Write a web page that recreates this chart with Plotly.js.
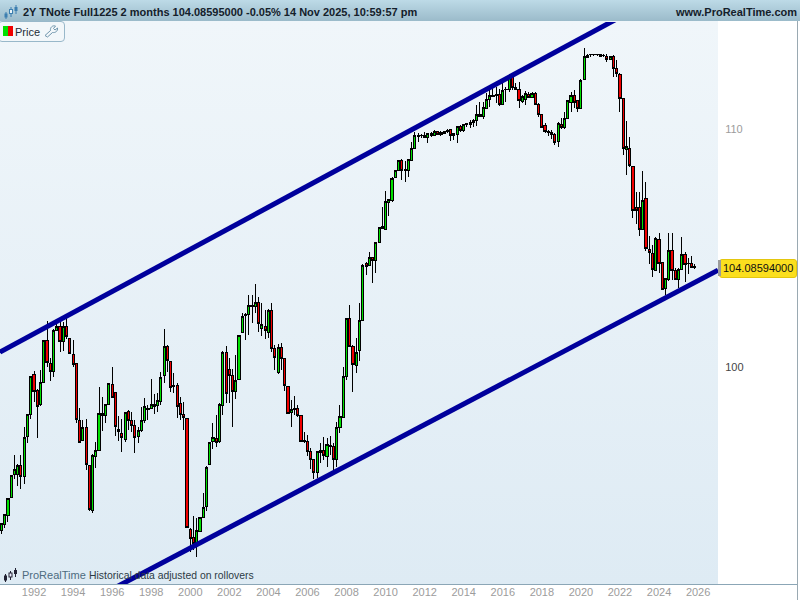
<!DOCTYPE html>
<html><head><meta charset="utf-8">
<script src="https://cdn.plot.ly/plotly-3.0.1.min.js"></script>
<style>
html,body{margin:0;padding:0;background:#fff;overflow:hidden}
#wrap{position:relative;width:800px;height:600px}
.bg{position:absolute}
#chart{position:absolute;left:0;top:0;width:800px;height:600px}
#chart .boxlayer path{shape-rendering:crispEdges}
</style></head><body>
<div id="wrap">
<div class="bg" style="left:0;top:0;width:800px;height:21px;background:linear-gradient(#bddae7,#9bbbca)"></div>
<div class="bg" style="left:0;top:21px;width:718px;height:563px;background:linear-gradient(#f0f6fa,#deebf4)"></div>
<div class="bg" style="left:797px;top:21px;width:1px;height:579px;background:#9aa9b2"></div>
<div class="bg" style="left:0;top:584px;width:797px;height:1px;background:#8ba6b6"></div>
<div class="bg" style="left:-2px;top:21px;width:65px;height:19px;background:#f2f7fa;border:1px solid #98b8ca;border-radius:4px"></div>
<div class="bg" style="left:3px;top:26px;width:5px;height:10px;background:#00e000"></div>
<div class="bg" style="left:8px;top:26px;width:5px;height:10px;background:#f00000"></div>
<svg class="bg" style="left:44px;top:24px" width="15" height="14" viewBox="0 0 15 14"><path d="M1 11.5 L6.5 6.5 C6 3.5 8.5 1 11.5 2 L9.5 4.5 L11 6 L13.5 4 C14 7 11.5 9 8.5 8.5 L3.5 13 Z" fill="none" stroke="#6f95ac" stroke-width="1"/></svg>
<div class="bg" style="left:719px;top:259px;width:76px;height:17px;background:#fbdf1e;border:1px solid #e3c60e;border-radius:3px"></div>
<div class="bg" style="left:718px;top:260px;width:3px;height:16px;background:#9b9b9b"></div>
<svg class="bg" style="left:4px;top:4px" width="14" height="16" viewBox="0 0 14 16">
<path d="M2 8v7M7 3v10M12 1v9" stroke="#3c7fb0" stroke-width="1"/>
<rect x="0.5" y="9.5" width="3" height="4" fill="#3c7fb0"/><rect x="5.5" y="5.5" width="3" height="4" fill="#e8f4fa" stroke="#3c7fb0"/><rect x="10.5" y="3" width="3" height="4" fill="#3c7fb0"/></svg>
<svg class="bg" style="left:3px;top:567px" width="14" height="16" viewBox="0 0 14 16">
<path d="M2.5 7v8M7.5 4v9M12.5 1v9" stroke="#223" stroke-width="1"/>
<rect x="1" y="8.5" width="3" height="5" fill="#223"/><rect x="6" y="6" width="3" height="4" fill="#eef" stroke="#223"/><rect x="11" y="3" width="3" height="4" fill="#223"/></svg>
<div id="chart"></div>
</div>
<script>
const barDates = [
'1990-05','1990-07','1990-09','1990-11',
'1991-01','1991-03','1991-05','1991-07','1991-09','1991-11',
'1992-01','1992-03','1992-05','1992-07','1992-09','1992-11',
'1993-01','1993-03','1993-05','1993-07','1993-09','1993-11',
'1994-01','1994-03','1994-05','1994-07','1994-09','1994-11',
'1995-01','1995-03','1995-05','1995-07','1995-09','1995-11',
'1996-01','1996-03','1996-05','1996-07','1996-09','1996-11',
'1997-01','1997-03','1997-05','1997-07','1997-09','1997-11',
'1998-01','1998-03','1998-05','1998-07','1998-09','1998-11',
'1999-01','1999-03','1999-05','1999-07','1999-09','1999-11',
'2000-01','2000-03','2000-05','2000-07','2000-09','2000-11',
'2001-01','2001-03','2001-05','2001-07','2001-09','2001-11',
'2002-01','2002-03','2002-05','2002-07','2002-09','2002-11',
'2003-01','2003-03','2003-05','2003-07','2003-09','2003-11',
'2004-01','2004-03','2004-05','2004-07','2004-09','2004-11',
'2005-01','2005-03','2005-05','2005-07','2005-09','2005-11',
'2006-01','2006-03','2006-05','2006-07','2006-09','2006-11',
'2007-01','2007-03','2007-05','2007-07','2007-09','2007-11',
'2008-01','2008-03','2008-05','2008-07','2008-09','2008-11',
'2009-01','2009-03','2009-05','2009-07','2009-09','2009-11',
'2010-01','2010-03','2010-05','2010-07','2010-09','2010-11',
'2011-01','2011-03','2011-05','2011-07','2011-09','2011-11',
'2012-01','2012-03','2012-05','2012-07','2012-09','2012-11',
'2013-01','2013-03','2013-05','2013-07','2013-09','2013-11',
'2014-01','2014-03','2014-05','2014-07','2014-09','2014-11',
'2015-01','2015-03','2015-05','2015-07','2015-09','2015-11',
'2016-01','2016-03','2016-05','2016-07','2016-09','2016-11',
'2017-01','2017-03','2017-05','2017-07','2017-09','2017-11',
'2018-01','2018-03','2018-05','2018-07','2018-09','2018-11',
'2019-01','2019-03','2019-05','2019-07','2019-09','2019-11',
'2020-01','2020-03','2020-05','2020-07','2020-09','2020-11',
'2021-01','2021-03','2021-05','2021-07','2021-09','2021-11',
'2022-01','2022-03','2022-05','2022-07','2022-09','2022-11',
'2023-01','2023-03','2023-05','2023-07','2023-09','2023-11',
'2024-01','2024-03','2024-05','2024-07','2024-09','2024-11',
'2025-01','2025-03','2025-05','2025-07','2025-09','2025-11'];

const opens = [
93.68,93.89,94.22,94.91,95.79,95.79,96.14,95.70,97.25,98.11,
99.71,99.08,98.50,99.38,101.07,100.15,99.81,101.49,101.63,101.01,
101.65,101.15,100.50,100.15,97.88,97.10,97.61,96.14,94.43,96.50,
96.73,98.16,98.06,98.50,99.29,98.99,97.55,97.38,97.13,98.22,
97.87,97.68,97.25,97.49,97.89,98.33,98.34,98.52,98.47,98.64,
99.66,100.83,100.23,99.27,99.27,98.56,98.12,97.97,93.71,93.41,
93.12,93.62,94.15,94.56,96.17,97.06,97.19,97.08,98.49,100.59,
99.91,99.67,99.03,99.51,101.39,102.08,102.13,102.44,102.44,102.62,
101.55,101.65,101.40,102.30,100.73,99.79,100.79,100.35,99.22,98.19,
98.32,98.35,98.06,97.10,97.06,96.68,96.37,95.87,96.64,96.70,
96.47,96.86,96.88,96.37,97.61,98.00,99.61,101.97,100.82,100.05,
100.67,101.89,104.23,104.16,104.49,104.37,105.11,105.78,105.66,106.82,
106.89,107.89,108.18,108.61,108.24,108.21,108.64,109.15,109.72,109.70,
109.72,109.64,109.80,109.72,109.89,109.77,109.81,109.89,109.99,109.71,
109.75,110.11,109.93,110.19,110.22,110.28,110.39,110.65,110.55,110.93,
111.32,111.44,111.47,111.54,111.08,111.74,111.74,112.33,111.87,111.77,
111.22,111.29,111.54,111.41,111.59,111.10,110.64,110.14,109.91,109.87,
109.77,109.44,110.21,110.06,110.46,111.17,111.50,111.25,110.92,112.21,
113.19,113.32,113.32,113.33,113.34,113.29,113.26,113.11,113.26,112.71,
112.45,111.37,109.11,109.15,108.35,106.61,106.61,105.67,106.99,104.83,
104.66,103.96,105.26,104.28,103.19,103.55,104.76,103.96,103.58,103.99,
104.62,104.23,104.24,104.11];

const highs = [
93.93,94.27,94.90,95.74,96.54,96.21,96.54,97.61,98.12,99.64,
99.85,99.11,99.88,101.07,101.86,100.35,101.52,101.80,101.83,101.83,
101.97,101.15,101.11,100.15,98.36,97.90,97.94,96.14,96.56,97.03,
99.19,98.79,98.55,99.34,99.99,98.99,98.06,97.96,98.22,98.31,
98.22,97.90,97.64,98.40,98.76,98.49,99.52,98.93,98.95,99.79,
101.54,100.90,100.23,99.75,99.35,98.80,98.62,97.97,93.75,94.21,
94.12,94.19,95.07,96.11,97.06,97.77,98.10,98.56,100.64,100.83,
100.35,99.91,100.48,101.28,102.17,102.17,102.93,102.93,103.38,102.83,
102.62,102.31,102.34,102.62,100.89,100.93,100.96,100.35,99.26,98.69,
98.85,98.49,98.06,97.42,97.32,96.80,96.37,96.69,96.99,97.25,
97.19,97.28,96.99,97.83,98.49,99.99,101.97,102.51,100.89,101.16,
102.61,104.21,104.31,104.73,104.52,105.15,105.78,106.64,107.32,106.95,
107.89,108.21,108.64,108.68,108.61,108.71,109.42,109.87,109.84,109.78,
109.87,109.84,109.89,109.96,109.93,109.93,109.91,109.99,109.99,109.84,
110.14,110.18,110.24,110.28,110.40,110.46,111.07,111.22,111.22,111.59,
111.78,111.84,111.89,111.77,112.10,111.89,112.45,112.48,112.06,112.10,
111.51,111.69,111.66,111.66,111.66,111.14,110.67,110.25,109.96,109.96,
109.81,110.33,110.47,110.77,111.29,111.63,111.74,111.29,112.25,113.61,
113.38,113.38,113.35,113.35,113.38,113.34,113.38,113.28,113.31,113.08,
112.48,111.37,110.36,109.64,108.37,107.25,107.25,108.17,107.68,105.39,
105.01,105.36,105.50,104.28,103.62,105.50,105.50,104.03,104.03,105.33,
104.70,104.45,104.54,104.21];

const lows = [
93.53,93.74,93.99,94.91,95.62,95.36,95.23,95.41,97.02,97.96,
98.62,97.21,98.46,99.38,100.02,99.45,99.61,101.49,100.61,100.64,
101.13,100.53,99.99,97.79,97.02,97.08,95.96,94.39,94.31,96.05,
96.73,97.48,97.79,98.49,98.75,97.28,97.10,96.67,97.03,97.51,
97.45,96.63,97.02,97.45,97.77,97.90,98.34,98.14,98.20,98.49,
99.37,99.81,99.02,98.95,97.99,97.90,97.51,93.75,92.87,92.94,
92.66,93.62,94.15,94.40,96.17,96.77,96.86,96.99,98.10,98.59,
98.59,97.64,98.73,99.48,101.39,101.09,101.29,101.77,102.21,101.43,
101.25,101.12,101.19,100.62,99.88,99.71,99.88,99.06,98.12,97.64,
98.10,98.03,97.03,96.99,96.51,96.01,95.60,95.67,96.24,96.34,
96.08,96.53,95.98,96.06,97.38,97.99,99.48,100.82,99.02,99.77,
100.24,101.89,103.76,104.15,103.44,103.86,105.08,105.67,105.63,106.23,
106.85,107.89,108.18,107.78,107.71,107.89,108.61,109.14,109.45,109.59,
109.59,109.38,109.67,109.69,109.74,109.69,109.77,109.81,109.49,109.52,
109.40,109.89,109.89,110.08,110.03,110.08,110.15,110.53,110.43,110.93,
110.99,111.41,111.17,111.04,111.05,111.22,111.66,111.74,111.74,110.95,
111.14,111.07,111.36,111.36,111.10,110.55,110.03,109.81,109.69,109.56,
109.28,109.22,109.99,110.00,110.43,110.77,110.92,110.77,110.89,112.18,
113.16,113.23,113.29,113.29,113.23,113.20,113.00,113.08,112.33,112.33,
110.77,108.86,107.99,108.35,106.16,105.88,105.40,105.64,104.76,104.20,
103.69,103.93,103.83,103.16,102.93,103.52,103.55,103.55,103.23,103.99,
103.48,103.80,104.03,103.99];

const closes = [
93.93,94.27,94.87,95.74,95.99,96.14,95.70,97.23,98.12,99.64,
99.01,98.42,99.38,101.07,100.18,99.81,101.49,101.63,101.01,101.63,
101.22,100.53,100.11,97.92,97.03,97.61,96.18,94.46,96.52,96.70,
98.16,98.07,98.51,99.34,98.79,97.65,97.45,97.23,98.20,97.87,
97.68,97.21,97.50,97.89,98.42,98.35,98.52,98.44,98.66,99.59,
100.83,100.27,99.19,99.24,98.42,98.12,98.00,93.77,93.36,93.19,
93.67,94.14,94.52,96.06,97.03,97.21,97.02,98.52,100.59,98.95,
99.66,99.03,99.45,101.28,102.06,102.13,102.51,102.51,102.62,101.75,
101.72,101.49,102.31,100.74,100.37,100.79,100.35,99.27,98.16,98.32,
98.35,98.06,97.06,97.06,96.67,96.37,95.87,96.67,96.70,96.51,
96.95,96.90,96.37,97.61,98.03,99.63,101.97,100.82,100.11,100.59,
101.89,104.16,104.09,104.49,104.35,105.12,105.75,105.71,106.86,106.93,
107.85,108.18,108.61,108.20,108.18,108.67,109.15,109.74,109.67,109.72,
109.64,109.81,109.74,109.91,109.77,109.84,109.89,109.96,109.71,109.80,
110.12,109.96,110.19,110.25,110.28,110.40,110.65,110.55,110.96,111.32,
111.47,111.51,111.54,111.07,111.72,111.77,112.28,111.84,111.75,111.25,
111.44,111.56,111.41,111.59,111.11,110.64,110.06,109.89,109.84,109.77,
109.40,110.25,110.06,110.47,111.28,111.48,111.19,110.93,112.18,113.23,
113.31,113.34,113.34,113.32,113.25,113.27,113.13,113.23,112.71,112.48,
111.37,109.15,109.23,108.42,106.46,106.49,105.67,106.92,104.85,104.70,
103.99,105.29,104.24,103.16,103.62,104.76,103.93,103.58,104.00,104.62,
104.21,104.25,104.06,104.086];

const upperChannelDates = ['1990-04-05','2023-07-15'];
const upperChannelPrices = [100.60,115.79];
const lowerChannelDates = ['1995-05-15','2027-01-08'];
const lowerChannelPrices = [91.25,103.96];

const yearTicks = ['1992','1994','1996','1998','2000','2002','2004','2006','2008','2010','2012','2014','2016','2018','2020','2022','2024','2026'];
const priceTicks = [100,110];
const priceTickLabels = ['<span style="color:#444444">100</span>','110'];

const channelColor = '#00009c';
const sans = 'Liberation Sans, Arial, Helvetica, sans-serif';

const traces = [
 {type:'candlestick',x:barDates,open:opens,high:highs,low:lows,close:closes,
  whiskerwidth:0,hoverinfo:'skip',showlegend:false,
  increasing:{line:{color:'#000',width:1},fillcolor:'#00e000'},
  decreasing:{line:{color:'#000',width:1},fillcolor:'#f00000'}},
 {type:'scatter',mode:'lines',x:upperChannelDates,y:upperChannelPrices,
  line:{color:channelColor,width:5},hoverinfo:'skip',showlegend:false},
 {type:'scatter',mode:'lines',x:lowerChannelDates,y:lowerChannelPrices,
  line:{color:channelColor,width:5},hoverinfo:'skip',showlegend:false}
];

function pxNote(text,px,py,size,color,anchor){
 return {text:text,xref:'paper',yref:'paper',x:px/718,y:(584-py)/562,xanchor:anchor||'left',yanchor:'middle',
  showarrow:false,font:{family:sans,size:size,color:color},borderpad:0,borderwidth:0};
}

const layout = {
 width:800,height:600,
 margin:{l:0,r:82,t:22,b:16,pad:0},
 paper_bgcolor:'rgba(0,0,0,0)',plot_bgcolor:'rgba(0,0,0,0)',
 showlegend:false,boxgap:0.02,
 xaxis:{type:'date',range:['1990-04-05','2027-01-08'],rangeslider:{visible:false},
  tickmode:'array',tickvals:yearTicks.map(y=>y+'-01-01'),ticktext:yearTicks,
  showgrid:false,zeroline:false,showline:false,ticks:'',
  tickfont:{family:sans,size:11,color:'#9c9c9c'},fixedrange:true},
 yaxis:{type:'log',side:'right',range:[1.96227,2.06002],
  tickmode:'array',tickvals:priceTicks,ticktext:priceTickLabels,
  showgrid:false,zeroline:false,showline:false,ticks:'outside',ticklen:4,tickcolor:'rgba(0,0,0,0)',
  tickfont:{family:sans,size:11,color:'#9c9c9c'},fixedrange:true},
 annotations:[
  pxNote('<b>2Y TNote Full1225 2 months 104.08595000 -0.05% 14 Nov 2025, 10:59:57 pm</b>',23,12,11,'#14202a'),
  pxNote('<b>www.ProRealTime.com</b>',797,12,11,'#14202a','right'),
  pxNote('Price',15,31.5,11,'#1d2d38'),
  pxNote('ProRealTime',22,575,11,'#4d6b80'),
  pxNote('Historical data adjusted on rollovers',89,575,10.4,'#2c3a44'),
  pxNote('104.08594000',758,268,11,'#111','center')
 ]
};
Plotly.newPlot('chart',traces,layout,{staticPlot:true,displayModeBar:false});
</script>
</body></html>
